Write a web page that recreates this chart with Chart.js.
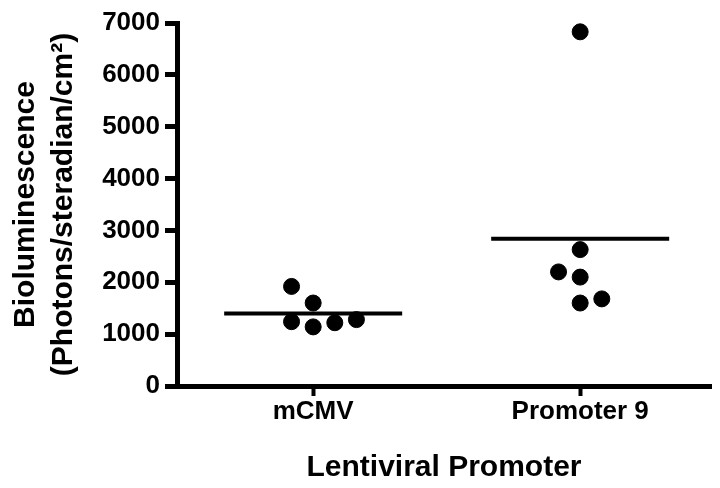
<!DOCTYPE html>
<html>
<head>
<meta charset="utf-8">
<script src="https://cdn.jsdelivr.net/npm/chart.js@4.4.0/dist/chart.umd.min.js"></script>
<style>
html, body { margin: 0; padding: 0; background: #fff; }
</style>
</head>
<body>
<canvas id="myChart" width="720" height="488"></canvas>
<script>
const categories = ['mCMV', 'Promoter 9'];
const mcmvValues = [1920, 1600, 1240, 1140, 1220, 1280];
const promoter9Values = [6830, 2630, 2200, 2100, 1600, 1680];
// column slot of each dot, the way the scatter spreads them sideways
const mcmvSlots = [-1, 0, -1, 0, 1, 2];
const promoter9Slots = [0, 0, -1, 0, 0, 1];
const yTicks = [0, 1000, 2000, 3000, 4000, 5000, 6000, 7000];

const SLOT = 0.081;   // sideways step between dots, in x units
const HALF = 1 / 3;   // half width of the mean line

Chart.defaults.font.family = "'Liberation Sans', Arial, sans-serif";
Chart.defaults.font.weight = 'bold';
Chart.defaults.color = '#000';

function dots(values, slots, pos) {
    return values.map(function(v, i) {
        return { x: pos + slots[i] * SLOT, y: v };
    });
}
function mean(values) {
    return values.reduce(function(a, b) { return a + b; }, 0) / values.length;
}

const groups = [mcmvValues, promoter9Values];
const slotLists = [mcmvSlots, promoter9Slots];

const datasets = [];
groups.forEach(function(values, i) {
    datasets.push({
        type: 'scatter',
        data: dots(values, slotLists[i], i + 1),
        backgroundColor: '#000',
        borderColor: '#000',
        pointRadius: 8,
        pointHoverRadius: 8,
    });
    const m = mean(values);
    datasets.push({
        type: 'line',
        data: [{ x: i + 1 - HALF, y: m }, { x: i + 1 + HALF, y: m }],
        borderColor: '#000',
        borderWidth: 4,
        pointRadius: 0,
        fill: false,
    });
});

var ctx = document.getElementById('myChart').getContext('2d');
var chart = new Chart(ctx, {
    type: 'scatter',
    data: { datasets: datasets },
    options: {
        responsive: false,
        animation: false,
        layout: { padding: { top: 23, right: 0, bottom: 0, left: 0 } },
        plugins: { legend: { display: false }, tooltip: { enabled: false } },
        scales: {
            x: {
                type: 'linear',
                min: 0.49,
                max: 2.49,
                afterBuildTicks: function(scale) {
                    scale.ticks = categories.map(function(c, i) { return { value: i + 1 }; });
                },
                afterFit: function(scale) { scale.height = 102; },
                ticks: {
                    font: { size: 26, weight: 'bold' },
                    padding: 0,
                    maxRotation: 0,
                    callback: function(v) { return categories[v - 1]; }
                },
                grid: { drawOnChartArea: false, tickLength: 10, tickWidth: 4, color: '#000' },
                border: { color: '#000', width: 5 },
                title: {
                    display: true,
                    text: 'Lentiviral Promoter',
                    font: { size: 30, weight: 'bold' },
                    padding: { top: 0, bottom: 2 }
                }
            },
            y: {
                min: 0,
                max: 7000,
                afterBuildTicks: function(scale) {
                    scale.ticks = yTicks.map(function(v) { return { value: v }; });
                },
                afterFit: function(scale) { scale.width = 177; },
                ticks: {
                    font: { size: 26, weight: 'bold' },
                    padding: 5,
                    callback: function(v) { return String(v); }
                },
                grid: { drawOnChartArea: false, tickLength: 12, tickWidth: 5, color: '#000' },
                border: { color: '#000', width: 5 },
                title: {
                    display: true,
                    text: ['Bioluminescence', '(Photons/steradian/cm\u00b2)'],
                    font: { size: 30, weight: 'bold', lineHeight: 1.27 },
                    padding: { top: 7, bottom: 0 }
                }
            }
        }
    }
});
</script>
</body>
</html>
